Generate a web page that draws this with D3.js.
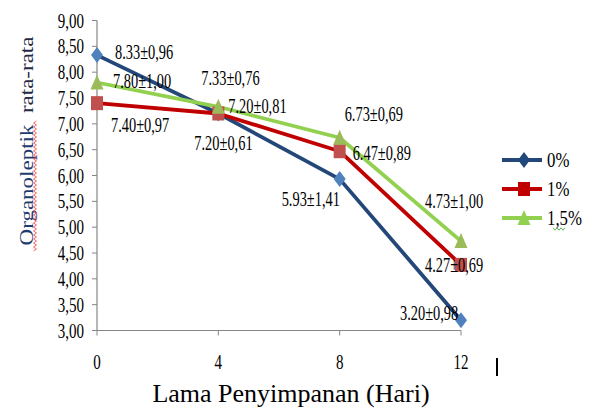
<!DOCTYPE html>
<html>
<head>
<meta charset="utf-8">
<script src="https://cdn.jsdelivr.net/npm/d3@7"></script>
<style>
body{margin:0;background:#fff;}
text{font-family:"Liberation Serif","Times New Roman",serif;fill:#000;}
</style>
</head>
<body>
<svg id="chart" width="592" height="408"></svg>
<script>
let days=[0,4,8,12];
let yTicks=[3,3.5,4,4.5,5,5.5,6,6.5,7,7.5,8,8.5,9];
let seriesNames=["0%","1%","1,5%"];
let val0=[8.33,7.20,5.93,3.20];
let val1=[7.40,7.20,6.47,4.27];
let val15=[7.80,7.33,6.73,4.73];
let sd0=["0,96","0,61","1,41","0,98"];
let sd1=["0,97","0,81","0,89","0,69"];
let sd15=["1,00","0,76","0,69","1,00"];

// label offsets relative to the point (start x, centre y)
let off0=[[18,-3],[-24,29],[-58,20],[-61,-7]];
let off1=[[14,22],[10,-8],[13,2],[-36,0]];
let off15=[[16,-2],[-17,-29],[5,-24],[-36,-40]];

let series=[
  {name:seriesNames[0],vals:val0,sd:sd0,off:off0,line:"#24477a",mark:"#4f81bd",legend:"#1f497d",shape:"diamond"},
  {name:seriesNames[1],vals:val1,sd:sd1,off:off1,line:"#c00000",mark:"#c0504d",legend:"#c00000",shape:"square"},
  {name:seriesNames[2],vals:val15,sd:sd15,off:off15,line:"#92d050",mark:"#9bbb59",legend:"#92d050",shape:"triangle"}
];

const svg=d3.select("#chart");
const x=d3.scaleLinear().domain([0,12]).range([97,461]);
const y=d3.scaleLinear().domain([3,9]).range([330.5,20.5]);

const shapePath=(s)=>{
  if(s==="diamond") return "M0,-8L6,0L0,8L-6,0Z";
  if(s==="square") return "M-6,-7H6V7H-6Z";
  return "M0,-8L6.5,7H-6.5Z";
};

// axes
svg.append("line").attr("x1",x(0)).attr("x2",x(0)).attr("y1",y(9)).attr("y2",y(3))
  .attr("stroke","#868686").attr("stroke-width",1.2);
svg.append("line").attr("x1",x(0)).attr("x2",x(12)).attr("y1",y(3)).attr("y2",y(3))
  .attr("stroke","#868686").attr("stroke-width",1.2);

svg.selectAll(".ytick").data(yTicks).enter().append("line")
  .attr("x1",x(0)-5).attr("x2",x(0)).attr("y1",(d)=>y(d)).attr("y2",(d)=>y(d))
  .attr("stroke","#868686");
svg.selectAll(".ylab").data(yTicks).enter().append("text")
  .attr("transform",(d)=>`translate(84,${y(d)+7}) scale(0.75,1)`)
  .attr("text-anchor","end").style("font-size","20px")
  .text((d)=>d3.format(".2f")(d).replace(".",","));

svg.selectAll(".xtick").data(days).enter().append("line")
  .attr("x1",(d)=>x(d)).attr("x2",(d)=>x(d)).attr("y1",y(3)).attr("y2",y(3)+5)
  .attr("stroke","#868686");
svg.selectAll(".xlab").data(days).enter().append("text")
  .attr("transform",(d)=>`translate(${x(d)},369) scale(0.75,1)`)
  .attr("text-anchor","middle").style("font-size","20px")
  .text((d)=>d);

// titles
svg.append("text").attr("x",291).attr("y",402).attr("text-anchor","middle")
  .style("font-size","26px").text("Lama Penyimpanan (Hari)");

let yt=svg.append("text").attr("transform","translate(33,141) rotate(-90) scale(1,0.78)")
  .attr("text-anchor","middle").style("font-size","23px");
yt.append("tspan").style("fill","#1f3c70").text("Organoleptik");
yt.append("tspan").style("fill","#1f2a44").text("\u00a0\u00a0rata-rata");

// spell-check squiggle under "Organoleptik"
let sq=d3.range(0,66).map((i)=>[35+(i%2?1.5:-1.5),251-i*2]);
svg.append("path").attr("d",d3.line()(sq)).attr("fill","none")
  .attr("stroke","#ff3b3b").attr("stroke-width",0.8);

// lines
const line=d3.line().x((d,i)=>x(days[i])).y((d)=>y(d));
series.forEach((s)=>{
  svg.append("path").attr("d",line(s.vals)).attr("fill","none")
    .attr("stroke",s.line).attr("stroke-width",3.8).attr("stroke-linejoin","round");
});
series.forEach((s)=>{
  svg.selectAll(null).data(s.vals).enter().append("path")
    .attr("transform",(d,i)=>`translate(${x(days[i])},${y(d)})`)
    .attr("d",shapePath(s.shape)).attr("fill",s.mark);
});

// data labels
series.forEach((s)=>{
  svg.selectAll(null).data(s.vals).enter().append("text")
    .attr("transform",(d,i)=>`translate(${x(days[i])+s.off[i][0]},${y(d)+s.off[i][1]+7}) scale(0.72,1)`)
    .style("font-size","20px")
    .text((d,i)=>d3.format(".2f")(d)+"\u00b1"+s.sd[i]);
});

// legend
let lg=svg.selectAll(".lg").data(series).enter().append("g")
  .attr("transform",(d,i)=>`translate(502,${160+i*29})`);
lg.append("line").attr("x1",0).attr("x2",40).attr("y1",0).attr("y2",0)
  .attr("stroke",(d)=>d.line).attr("stroke-width",3.8);
lg.append("path").attr("transform","translate(22,0)").attr("d",(d)=>shapePath(d.shape))
  .attr("fill",(d)=>d.legend);
lg.append("text").attr("transform","translate(45,7) scale(0.8,1)")
  .style("font-size","21px").text((d)=>d.name);

// squiggle under ",5"
let sq2=d3.range(0,7).map((i)=>[553+i*2,229+(i%2?1.2:-1.2)]);
svg.append("path").attr("d",d3.line()(sq2)).attr("fill","none")
  .attr("stroke","#3a9a3a").attr("stroke-width",0.8);

// stray mark
svg.append("line").attr("x1",497).attr("x2",497).attr("y1",358).attr("y2",376)
  .attr("stroke","#000").attr("stroke-width",2);
</script>
</body>
</html>
